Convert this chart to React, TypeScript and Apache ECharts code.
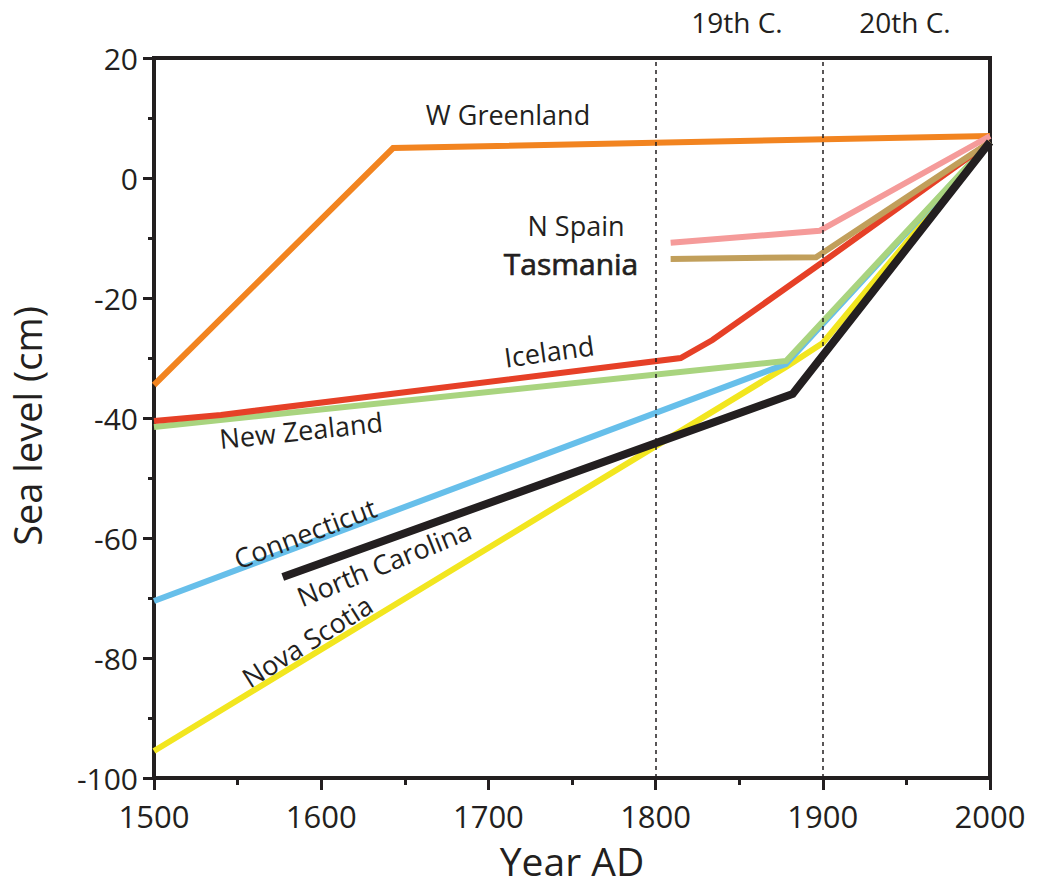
import React, { useEffect, useRef } from "react";
import * as echarts from "echarts";

const xTicks = [1500, 1600, 1700, 1800, 1900, 2000];
const yTicks = [-100, -80, -60, -40, -20, 0, 20];

const wGreenland = [[1500, -34.5], [1643, 5], [2000, 7]];
const iceland = [[1500, -40.5], [1540, -39.5], [1815, -30], [1834, -27], [1900, -14], [2000, 6]];
const newZealand = [[1500, -41.5], [1878, -30.5], [2000, 6]];
const connecticut = [[1500, -70.5], [1878, -31], [2000, 6]];
const novaScotia = [[1500, -95.5], [1878, -31.5], [1900, -27.5], [2000, 6]];
const northCarolina = [[1577, -66.5], [1882, -36], [2000, 6]];
const nSpain = [[1809, -10.8], [1898, -8.8], [2000, 7]];
const tasmania = [[1809, -13.5], [1896, -13.2], [2000, 6]];
const centuryLines = [1800, 1900];

const INK = "#231F20";
const FONT = "Open Sans";

export default function App() {
  const ref = useRef<HTMLDivElement>(null);
  useEffect(() => {
    const chart = echarts.init(ref.current!, null, { renderer: "svg" });
    const line = (name: string, data: number[][], color: string, width = 6, z = 2) => ({
      name,
      type: "line",
      data,
      showSymbol: false,
      symbol: "none",
      z,
      lineStyle: { color, width, cap: "butt", join: "miter" },
    });
    const text = (t: string, x: number, y: number, rot = 0, size = 27, strong = false) => ({
      type: "text",
      x,
      y,
      rotation: (rot * Math.PI) / 180,
      z: 100,
      style: {
        text: t,
        fill: INK,
        font: `normal ${size}px "${FONT}"`,
        align: "center",
        verticalAlign: "middle",
        ...(strong ? { stroke: INK, lineWidth: 0.7 } : {}),
      },
    });
    chart.setOption({
      animation: false,
      backgroundColor: "#ffffff",
      grid: {
        left: 154,
        right: 47,
        top: 58,
        bottom: 115,
        show: true,
        borderColor: INK,
        borderWidth: 4,
        backgroundColor: "transparent",
      },
      xAxis: {
        type: "value",
        min: xTicks[0],
        max: xTicks[xTicks.length - 1],
        interval: 100,
        name: "Year AD",
        nameLocation: "middle",
        nameGap: 63,
        nameTextStyle: { fontFamily: FONT, fontSize: 39, color: INK },
        axisLine: { show: true, onZero: false, lineStyle: { color: INK, width: 4 } },
        axisTick: { show: true, length: 12, lineStyle: { color: INK, width: 3 } },
        minorTick: { show: true, splitNumber: 2, length: 7, lineStyle: { color: INK, width: 3 } },
        splitLine: { show: false },
        axisLabel: {
          fontFamily: FONT,
          fontSize: 31,
          color: INK,
          margin: 22,
          formatter: (v: number) => String(v),
        },
      },
      yAxis: {
        type: "value",
        min: yTicks[0],
        max: yTicks[yTicks.length - 1],
        interval: 20,
        name: "Sea level (cm)",
        nameLocation: "middle",
        nameGap: 108,
        nameTextStyle: { fontFamily: FONT, fontSize: 38, color: INK, padding: [0, 0, 0, -16] },
        axisLine: { show: true, onZero: false, lineStyle: { color: INK, width: 4 } },
        axisTick: { show: true, length: 11, lineStyle: { color: INK, width: 3 } },
        minorTick: { show: true, splitNumber: 2, length: 6, lineStyle: { color: INK, width: 3 } },
        splitLine: { show: false },
        axisLabel: {
          fontFamily: FONT,
          fontSize: 30,
          color: INK,
          margin: 16,
          formatter: (v: number) => String(v),
        },
      },
      series: [
        {
          ...line("W Greenland", wGreenland, "#F28420"),
          markLine: {
            silent: true,
            symbol: "none",
            label: { show: false },
            lineStyle: { color: INK, width: 1.5, type: [4, 4] },
            data: centuryLines.map((v) => ({ xAxis: v })),
          },
        },
        line("Nova Scotia", novaScotia, "#F2E61F"),
        line("Connecticut", connecticut, "#67BFEA"),
        line("New Zealand", newZealand, "#A9D47F"),
        line("Iceland", iceland, "#E64027"),
        line("Tasmania", tasmania, "#C19F5B"),
        line("N Spain", nSpain, "#F59B9A"),
        line("North Carolina", northCarolina, INK, 8, 3),
      ],
      graphic: [
        text("19th C.", 737, 22, 0, 28),
        text("20th C.", 905, 22, 0, 28),
        text("W Greenland", 508, 114),
        text("N Spain", 576, 225),
        text("Tasmania", 571, 263, 0, 30, true),
        text("Iceland", 549, 351, 8),
        text("New Zealand", 301, 430, 6),
        text("Connecticut", 305, 533, 21),
        text("North Carolina", 384, 563, 22),
        text("Nova Scotia", 307, 641, 32),
      ],
    });
    return () => chart.dispose();
  }, []);
  return (
    <div
      ref={ref}
      style={{ position: "fixed", left: 0, top: 0, width: 1037, height: 893, background: "#fff" }}
    />
  );
}
